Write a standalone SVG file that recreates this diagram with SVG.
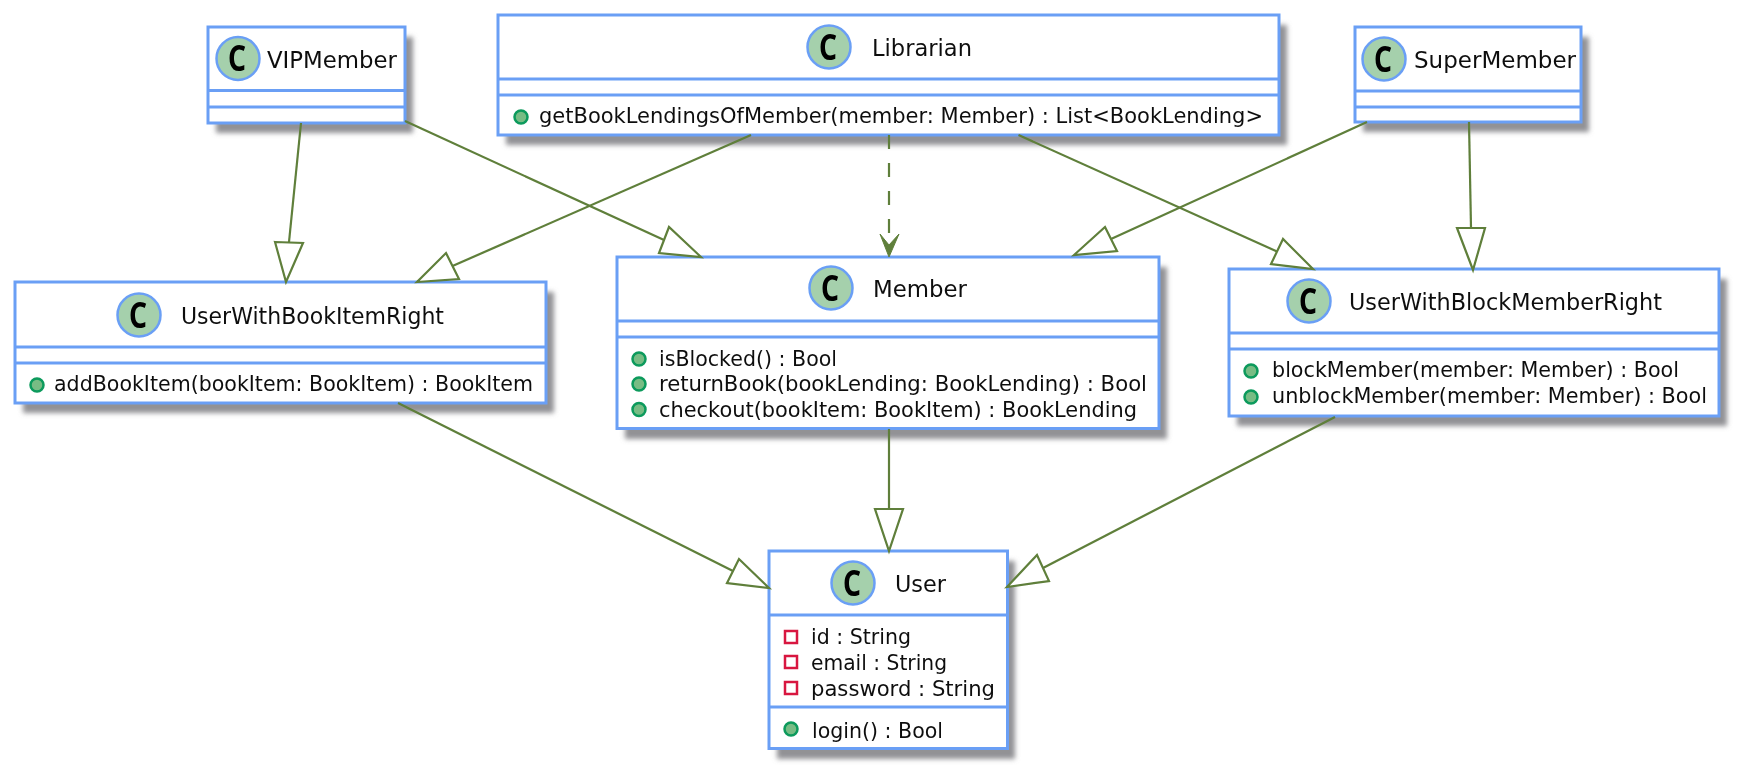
<svg xmlns="http://www.w3.org/2000/svg" width="1744" height="774" viewBox="0 0 1744 774">
<defs>
<filter id="sh" x="-10%" y="-10%" width="120%" height="130%"><feGaussianBlur stdDeviation="2.500"/></filter>
<filter id="soft" filterUnits="userSpaceOnUse" x="0" y="0" width="1744" height="774"><feGaussianBlur stdDeviation="0.500"/></filter>
<style>
text{font-family:"DejaVu Sans","Noto Sans",sans-serif;fill:#111}
.t{font-size:22.500px}
.m{font-size:21px}
.c{font-family:"Noto Sans","DejaVu Sans",sans-serif;font-size:35px;font-weight:700;text-anchor:middle;fill:#000}
.box{fill:#fff;stroke:#6a9ff5;stroke-width:3}
.sep{stroke:#6a9ff5;stroke-width:2.800;fill:none}
.shadow{fill:#929295;filter:url(#sh)}
.badge{fill:#a5d0ac;stroke:#6a9ff5;stroke-width:2.500}
.pub{fill:#78bc84;stroke:#0a9a5c;stroke-width:2.500}
.priv{fill:#fff;stroke:#d81840;stroke-width:2.500}
.ln{fill:none;stroke:#5f7f3a;stroke-width:2.200}
.head{fill:#fff;stroke:#5f7f3a;stroke-width:2.200;stroke-linejoin:miter}
.open{fill:#5f7f3a;stroke:#5f7f3a;stroke-width:1}
</style>
</defs>
<rect width="1744" height="774" fill="#fff"/>
<g filter="url(#soft)">
<g id="VIPMember">
<rect class="shadow" x="216" y="37" width="197" height="96"/>
<rect class="box" x="208" y="27" width="197" height="96"/>
<path class="sep" d="M208 90.500H405M208 107H405"/>
<circle class="badge" cx="238" cy="58.500" r="21.500"/>
<text class="c" x="237" y="71" textLength="18" lengthAdjust="spacingAndGlyphs">C</text>
<text class="t" x="267" y="68" textLength="130" lengthAdjust="spacingAndGlyphs">VIPMember</text>
</g>

<g id="Librarian">
<rect class="shadow" x="506" y="25" width="781" height="120"/>
<rect class="box" x="498" y="15" width="781" height="120"/>
<path class="sep" d="M498 79H1279M498 95H1279"/>
<circle class="badge" cx="829" cy="47" r="21.500"/>
<text class="c" x="828" y="59.500" textLength="18" lengthAdjust="spacingAndGlyphs">C</text>
<text class="t" x="872" y="56" textLength="100" lengthAdjust="spacingAndGlyphs">Librarian</text>
<circle class="pub" cx="521" cy="117" r="6.500"/>
<text class="m" x="539" y="123" textLength="724" lengthAdjust="spacingAndGlyphs">getBookLendingsOfMember(member: Member) : List&lt;BookLending&gt;</text>
</g>

<g id="SuperMember">
<rect class="shadow" x="1363" y="37" width="226" height="95"/>
<rect class="box" x="1355" y="27" width="226" height="95"/>
<path class="sep" d="M1355 91H1581M1355 107H1581"/>
<circle class="badge" cx="1384" cy="59" r="21.500"/>
<text class="c" x="1383" y="71.500" textLength="18" lengthAdjust="spacingAndGlyphs">C</text>
<text class="t" x="1414" y="68" textLength="162" lengthAdjust="spacingAndGlyphs">SuperMember</text>
</g>

<g id="UserWithBookItemRight">
<rect class="shadow" x="23" y="292" width="531" height="121"/>
<rect class="box" x="15" y="282" width="531" height="121"/>
<path class="sep" d="M15 347H546M15 363H546"/>
<circle class="badge" cx="139" cy="315" r="21.500"/>
<text class="c" x="138" y="327.500" textLength="18" lengthAdjust="spacingAndGlyphs">C</text>
<text class="t" x="181" y="324" textLength="263" lengthAdjust="spacingAndGlyphs">UserWithBookItemRight</text>
<circle class="pub" cx="37" cy="385" r="6.500"/>
<text class="m" x="54" y="391" textLength="479" lengthAdjust="spacingAndGlyphs">addBookItem(bookItem: BookItem) : BookItem</text>
</g>

<g id="Member">
<rect class="shadow" x="625" y="267" width="542" height="172"/>
<rect class="box" x="617" y="257" width="542" height="171.500"/>
<path class="sep" d="M617 321H1159M617 337H1159"/>
<circle class="badge" cx="831" cy="288" r="21.500"/>
<text class="c" x="830" y="300.500" textLength="18" lengthAdjust="spacingAndGlyphs">C</text>
<text class="t" x="873" y="297" textLength="94" lengthAdjust="spacingAndGlyphs">Member</text>
<circle class="pub" cx="639" cy="359" r="6.500"/>
<circle class="pub" cx="639" cy="384" r="6.500"/>
<circle class="pub" cx="639" cy="409.500" r="6.500"/>
<text class="m" x="659" y="366" textLength="178" lengthAdjust="spacingAndGlyphs">isBlocked() : Bool</text>
<text class="m" x="659" y="391" textLength="488" lengthAdjust="spacingAndGlyphs">returnBook(bookLending: BookLending) : Bool</text>
<text class="m" x="659" y="417" textLength="478" lengthAdjust="spacingAndGlyphs">checkout(bookItem: BookItem) : BookLending</text>
</g>

<g id="UserWithBlockMemberRight">
<rect class="shadow" x="1237" y="279" width="490" height="147"/>
<rect class="box" x="1229" y="269" width="490" height="147"/>
<path class="sep" d="M1229 333H1719M1229 349H1719"/>
<circle class="badge" cx="1309" cy="301" r="21.500"/>
<text class="c" x="1308" y="313.500" textLength="18" lengthAdjust="spacingAndGlyphs">C</text>
<text class="t" x="1349" y="310" textLength="313" lengthAdjust="spacingAndGlyphs">UserWithBlockMemberRight</text>
<circle class="pub" cx="1251" cy="371" r="6.500"/>
<circle class="pub" cx="1251" cy="397" r="6.500"/>
<text class="m" x="1272" y="377" textLength="407" lengthAdjust="spacingAndGlyphs">blockMember(member: Member) : Bool</text>
<text class="m" x="1272" y="403" textLength="435" lengthAdjust="spacingAndGlyphs">unblockMember(member: Member) : Bool</text>
</g>

<g id="User">
<rect class="shadow" x="777" y="561" width="238" height="198"/>
<rect class="box" x="769" y="551" width="238.500" height="197.500"/>
<path class="sep" d="M769 615H1007M769 707H1007"/>
<circle class="badge" cx="853" cy="583" r="21.500"/>
<text class="c" x="852" y="595.500" textLength="18" lengthAdjust="spacingAndGlyphs">C</text>
<text class="t" x="895" y="592" textLength="51" lengthAdjust="spacingAndGlyphs">User</text>
<rect class="priv" x="785" y="631" width="12" height="12"/>
<rect class="priv" x="785" y="656" width="12" height="12"/>
<rect class="priv" x="785" y="682" width="12" height="12"/>
<text class="m" x="811" y="644" textLength="100" lengthAdjust="spacingAndGlyphs">id : String</text>
<text class="m" x="811" y="670" textLength="136" lengthAdjust="spacingAndGlyphs">email : String</text>
<text class="m" x="811" y="696" textLength="184" lengthAdjust="spacingAndGlyphs">password : String</text>
<circle class="pub" cx="791" cy="729" r="6.500"/>
<text class="m" x="812" y="738" textLength="131" lengthAdjust="spacingAndGlyphs">login() : Bool</text>
</g>

<g id="connectors">
<path class="ln" d="M301 123L289 242"/>
<path class="head" d="M275 242L303 243L286 282Z"/>
<path class="ln" d="M405 121L664 240"/>
<path class="head" d="M669 227L659 253L701 257Z"/>
<path class="ln" d="M751 135L452.500 266"/>
<path class="head" d="M446 253L459 279L417 282Z"/>
<path class="ln" stroke-dasharray="14 14" d="M889 135V246"/>
<path class="open" d="M889 257L880 234L889 245L899 234Z"/>
<path class="ln" d="M1018.500 135L1277 251.500"/>
<path class="head" d="M1283 239L1271 264L1313 269Z"/>
<path class="ln" d="M1367 122L1111 239"/>
<path class="head" d="M1105 227L1117 251L1074 255Z"/>
<path class="ln" d="M1469 122L1471 228"/>
<path class="head" d="M1457 228L1485 228L1473 270Z"/>
<path class="ln" d="M398 403L733 571"/>
<path class="head" d="M739 559L727 583L769 588Z"/>
<path class="ln" d="M889 429V509"/>
<path class="head" d="M875 509L903 509L889 551Z"/>
<path class="ln" d="M1335 417L1043 568"/>
<path class="head" d="M1037 555L1049 581L1007 587Z"/>
</g>
</g>
</svg>
